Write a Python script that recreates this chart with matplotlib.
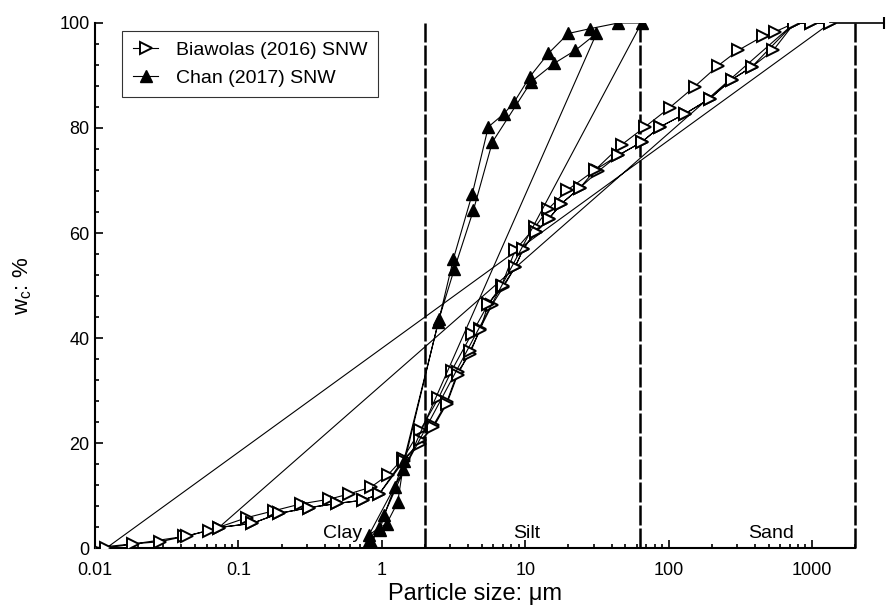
import numpy as np
import matplotlib
matplotlib.use("Agg")
from matplotlib import pyplot as plt
from matplotlib.ticker import MultipleLocator, LogLocator, FixedLocator, NullFormatter

# Biawolas (2016) SNW: three measurement runs drawn as one line, in file order
BIA_X = [0.0095, 0.0185, 0.0285, 0.042, 0.062, 0.115, 0.177, 0.272, 0.43, 0.59, 0.84, 1.10, 1.40,
         1.85, 2.48, 3.07, 4.24, 5.53, 6.85, 8.5, 11.7, 14.5, 19.5, 30.7, 47, 68.4, 102, 152, 222,
         306, 457, 551, 755, 977, 1345,
         0.012, 0.044, 0.073, 0.125, 0.192, 0.312, 0.49, 0.74, 0.96, 1.42, 1.85, 2.29, 2.84, 3.38,
         4.12, 4.85, 5.84, 7.04, 8.5, 9.7, 11.8, 14.6, 17.9, 24.1, 32.4, 44.6, 64.8, 87, 130, 194,
         275, 379, 537, 755,
         0.073, 0.125, 0.192, 0.312, 0.49, 0.74, 0.96, 1.42, 1.85, 2.29, 2.84, 3.38, 4.12, 4.85,
         5.53, 7.04, 8.5, 9.7, 11.8, 14.6, 17.9, 24.1, 30.7, 44.6, 64.8, 87, 130, 194, 275, 379,
         755, 977, 1345]
BIA_Y = [0.0, 0.8, 1.2, 2.2, 3.3, 5.8, 7.1, 8.4, 9.3, 10.3, 11.6, 13.9, 17.0,
         22.4, 28.5, 33.8, 40.8, 46.5, 50.0, 56.7, 61.1, 64.6, 68.1, 72.0, 76.8, 80.2, 83.9, 87.9, 91.9,
         94.8, 97.5, 98.3, 100, 100, 100,
         0.0, 2.3, 3.9, 4.7, 6.6, 7.7, 8.5, 9.1, 10.3, 17.0, 19.9, 23.4, 27.8, 33.5,
         37.0, 41.8, 46.2, 49.7, 53.5, 57.0, 60.2, 62.7, 65.6, 68.6, 71.8, 74.8, 77.3, 80.2, 82.7, 85.6,
         89.2, 91.6, 94.8, 100,
         3.9, 4.7, 6.6, 7.7, 8.5, 9.1, 10.3, 16.5, 20.5, 23.0, 27.5, 33.0, 37.5, 41.5,
         46.5, 50.0, 53.5, 57.0, 60.2, 62.7, 65.6, 68.6, 72.0, 74.8, 77.3, 80.2, 82.7, 85.6, 89.2, 91.6,
         100, 100, 100]

# Chan (2017) SNW: two full runs and a short third one
CHAN_X = [0.82, 0.97, 1.04, 1.23, 1.42, 2.48, 3.16, 4.28, 5.53, 7.1, 8.36, 10.8, 14.5, 20.0, 28.1,
          44.6, 64.8,
          0.81, 0.96, 1.08, 1.29, 1.40, 2.51, 3.21, 4.35, 5.9, 11.0, 15.9, 22.4, 31.4,
          0.83, 0.85]
CHAN_Y = [1.4, 3.4, 6.3, 11.6, 16.5, 43.0, 55.1, 67.5, 80.2, 82.7, 84.9, 89.8, 94.2, 98.0, 98.9,
          100, 100,
          2.4, 3.9, 4.6, 8.7, 15.0, 43.7, 53.2, 64.3, 77.3, 88.8, 92.3, 94.8, 98.0,
          0.3, 0.8]

# size class limits (um) and labels
LIMITS = [2, 63, 2000]
CLASS_NAMES = ["Clay", "Silt", "Sand"]
CLASS_X = [0.53, 10.2, 520]

plt.rcParams['font.family'] = ['Liberation Sans', 'DejaVu Sans']
plt.rcParams['mathtext.default'] = 'regular'

fig = plt.figure(figsize=(8.88, 6.13), dpi=100)
ax = fig.add_axes([0.107, 0.106, 0.856, 0.8565])

ax.plot(BIA_X, BIA_Y, color='black', lw=0.8, marker='>', ms=8, mfc='white', mec='black',
        mew=1.4, label='Biawolas (2016) SNW', zorder=3)
ax.plot(CHAN_X, CHAN_Y, color='black', lw=0.8, marker='^', ms=8, mfc='black', mec='black',
        label='Chan (2017) SNW', zorder=3)
# tail at the top right, with its end cap
ax.plot([BIA_X[-1], 3200], [100, 100], color='black', lw=1.2, clip_on=False)
ax.plot([3200], [100], marker='|', ms=9, mew=1.5, color='black', clip_on=False)

for lim in LIMITS:
    ax.plot([lim, lim], [0, 100], color='black', lw=1.8, dashes=(8, 1.2), zorder=2,
            clip_on=False)

for name, cx in zip(CLASS_NAMES, CLASS_X):
    ax.text(cx, 1.2, name, ha='center', va='bottom', fontsize=14)

ax.set_xscale('log')
ax.set_xlim(0.01, 2000)
ax.set_ylim(0, 100)
ax.xaxis.set_major_locator(FixedLocator([0.01, 0.1, 1, 10, 100, 1000]))
ax.xaxis.set_major_formatter(plt.FuncFormatter(lambda v, p: '%g' % v))
ax.xaxis.set_minor_locator(LogLocator(base=10, subs=np.arange(2, 10)))
ax.xaxis.set_minor_formatter(NullFormatter())
ax.yaxis.set_major_locator(MultipleLocator(20))
ax.yaxis.set_minor_locator(MultipleLocator(4))
ax.tick_params(which='both', direction='in', labelsize=13, width=1.2)
ax.tick_params(which='major', length=6)
ax.tick_params(which='minor', length=3)
ax.tick_params(axis='x', pad=10)
ax.tick_params(axis='y', pad=4)
for side in ['top', 'right']:
    ax.spines[side].set_visible(False)
for side in ['left', 'bottom']:
    ax.spines[side].set_linewidth(1.5)

ax.set_xlabel('Particle size: \u03bcm', fontsize=17, labelpad=3)
ax.set_ylabel('w$_c$: %', fontsize=16, labelpad=18)

leg = ax.legend(loc='upper left', bbox_to_anchor=(0.036, 0.985), fontsize=14, frameon=True,
                fancybox=False, edgecolor='black', handlelength=1.3, handletextpad=0.9,
                borderpad=0.55, labelspacing=0.5, borderaxespad=0)
leg.get_frame().set_linewidth(0.8)

fig.savefig('out.png', dpi=100)
